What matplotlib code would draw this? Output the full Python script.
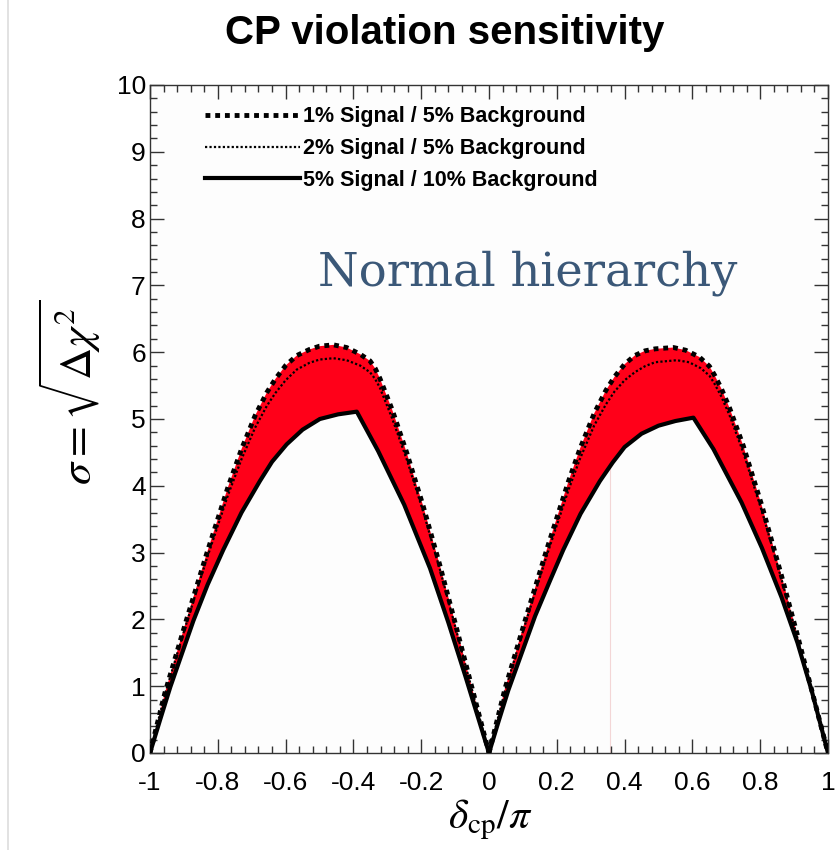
import numpy as np
import matplotlib
matplotlib.use("Agg")
import matplotlib.pyplot as plt
from matplotlib.lines import Line2D

# ---- data ----
# 1% Signal / 5% Background (outer, thick dotted)
x_s1_left = [-1.0, -0.956, -0.892, -0.833, -0.77, -0.73, -0.69, -0.655, -0.63, -0.60, -0.567, -0.53,
             -0.50, -0.459, -0.42, -0.38, -0.351, -0.336, -0.322, -0.285, -0.243, -0.195, -0.145, -0.10, -0.056, 0.0]
y_s1_left = [0.0, 0.9, 2.0, 2.98, 3.98, 4.55, 5.05, 5.4, 5.6, 5.8, 5.95, 6.04,
             6.09, 6.11, 6.07, 5.97, 5.87, 5.76, 5.61, 5.13, 4.5, 3.71, 2.81, 1.95, 1.09, 0.0]
x_s1_right = [0.0, 0.047, 0.111, 0.170, 0.234, 0.268, 0.31, 0.345, 0.37, 0.40, 0.43, 0.46,
              0.49, 0.544, 0.58, 0.62, 0.65, 0.665, 0.685, 0.71, 0.75, 0.805, 0.863, 0.91, 0.952, 1.0]
y_s1_right = [0.0, 0.96, 2.06, 3.04, 4.06, 4.55, 5.08, 5.43, 5.63, 5.82, 5.95, 6.02,
              6.05, 6.07, 6.03, 5.93, 5.79, 5.66, 5.46, 5.16, 4.6, 3.7, 2.65, 1.76, 0.94, 0.0]

# 2% Signal / 5% Background (thin dotted)
x_s2_left = [-1.0, -0.956, -0.892, -0.833, -0.77, -0.73, -0.69, -0.655, -0.63, -0.60, -0.567, -0.53,
             -0.50, -0.459, -0.42, -0.38, -0.351, -0.336, -0.322, -0.285, -0.243, -0.195, -0.145, -0.10, -0.056, 0.0]
y_s2_left = [0.0, 0.88, 1.95, 2.9, 3.86, 4.4, 4.87, 5.2, 5.39, 5.58, 5.74, 5.84,
             5.89, 5.91, 5.88, 5.8, 5.7, 5.6, 5.47, 5.0, 4.4, 3.63, 2.75, 1.9, 1.06, 0.0]
x_s2_right = [0.0, 0.047, 0.111, 0.170, 0.234, 0.268, 0.31, 0.345, 0.37, 0.40, 0.43, 0.46,
              0.49, 0.554, 0.59, 0.625, 0.65, 0.665, 0.685, 0.71, 0.75, 0.805, 0.863, 0.91, 0.952, 1.0]
y_s2_right = [0.0, 0.93, 2.0, 2.95, 3.93, 4.4, 4.9, 5.22, 5.41, 5.58, 5.7, 5.79,
              5.85, 5.88, 5.85, 5.76, 5.65, 5.53, 5.34, 5.05, 4.5, 3.62, 2.6, 1.72, 0.92, 0.0]

# 5% Signal / 10% Background (solid)
x_s5_left = [-1.0, -0.97, -0.94, -0.872, -0.83, -0.784, -0.73, -0.676, -0.64, -0.597, -0.55, -0.499,
             -0.445, -0.39, -0.327, -0.25, -0.174, -0.12, -0.07, 0.0]
y_s5_left = [0.0, 0.5, 0.99, 1.98, 2.52, 3.04, 3.6, 4.07, 4.36, 4.62, 4.84, 5.0,
             5.07, 5.11, 4.52, 3.715, 2.765, 1.955, 1.155, 0.0]
x_s5_right = [0.0, 0.028, 0.057, 0.136, 0.18, 0.219, 0.27, 0.327, 0.365, 0.40, 0.45, 0.50,
              0.55, 0.603, 0.662, 0.745, 0.805, 0.863, 0.91, 0.952, 1.0]
y_s5_right = [0.0, 0.47, 0.94, 2.05, 2.58, 3.04, 3.58, 4.07, 4.35, 4.58, 4.78, 4.9,
              4.97, 5.02, 4.55, 3.75, 3.07, 2.33, 1.65, 0.93, 0.0]

labels = ["1% Signal / 5% Background", "2% Signal / 5% Background", "5% Signal / 10% Background"]
title = "CP violation sensitivity"
annotation = "Normal hierarchy"
xticks = [-1, -0.8, -0.6, -0.4, -0.2, 0, 0.2, 0.4, 0.6, 0.8, 1]
xticklabels = ["-1", "-0.8", "-0.6", "-0.4", "-0.2", "0", "0.2", "0.4", "0.6", "0.8", "1"]
yticks = list(range(0, 11))

# ---- figure ----
plt.rcParams["mathtext.fontset"] = "stix"
fig = plt.figure(figsize=(8.37, 8.5), dpi=100)
ax = fig.add_axes([150/837, 1-753/850, 678/837, 668/850])
ax.set_facecolor("#fdfdfd")

red = "#ff0019"
for xo, yo, xs, ys in [(x_s1_left, y_s1_left, x_s5_left, y_s5_left),
                       (x_s1_right, y_s1_right, x_s5_right, y_s5_right)]:
    px = np.concatenate([xo, xs[::-1]])
    py = np.concatenate([yo, ys[::-1]])
    ax.fill(px, py, color=red, lw=0, zorder=1)

# faint artifact line in reference
ax.plot([0.357, 0.357], [0, 4.7], color="#f3d6d6", lw=0.8, zorder=0.5)

for xo, yo in [(x_s1_left, y_s1_left), (x_s1_right, y_s1_right)]:
    h1, = ax.plot(xo, yo, color="black", lw=3.5, linestyle=(0, (1, 1)), dash_capstyle="butt", zorder=4)
for xo, yo in [(x_s2_left, y_s2_left), (x_s2_right, y_s2_right)]:
    h2, = ax.plot(xo, yo, color="black", lw=1.6, linestyle=(0, (1, 1)), zorder=3)
for xo, yo in [(x_s5_left, y_s5_left), (x_s5_right, y_s5_right)]:
    h5, = ax.plot(xo, yo, color="black", lw=3.0, solid_joinstyle="round", zorder=3)

ax.set_xlim(-1, 1)
ax.set_ylim(0, 10)

tickfont = ["Liberation Sans", "DejaVu Sans"]
ax.set_xticks(xticks)
ax.set_xticklabels(xticklabels, family=tickfont, fontsize=19)
ax.set_yticks(yticks)
ax.set_yticklabels([str(v) for v in yticks], family=tickfont, fontsize=19)
ax.set_xticks(np.arange(-1, 1.0001, 0.04), minor=True)
ax.set_yticks(np.arange(0, 10.0001, 0.2), minor=True)
ax.tick_params(which="both", direction="in", top=True, right=True, width=1, color="#333333")
ax.tick_params(which="major", length=10)
ax.tick_params(which="minor", length=5)
ax.tick_params(axis="x", which="major", pad=13)
ax.tick_params(axis="y", which="major", pad=3)
for s in ax.spines.values():
    s.set_linewidth(1.0)
    s.set_color("#333333")

leg = ax.legend([h1, h2, h5], labels, loc="upper left", bbox_to_anchor=(0.081, 0.968),
                frameon=False, borderpad=0, borderaxespad=0, handlelength=4.4,
                handletextpad=0.15, labelspacing=0.5,
                prop={"family": "Liberation Sans", "weight": "bold", "size": 15.5})

ax.text((318-150)/678, (753-285)/668, annotation, transform=ax.transAxes, family="DejaVu Serif",
        fontsize=33.5, color="#3b5878", ha="left", va="baseline")

fig.text(445/837, 1-33/850, title, ha="center", va="center",
         family="Liberation Sans", weight="bold", fontsize=29)

fig.text(70/837, 1-392/850, r"$\sigma = \sqrt{\Delta\chi^2}$", rotation=90, ha="center", va="center",
         fontsize=32)
fig.text(490/837, 1-820/850, r"$\delta_{\rm cp}/\pi$", ha="center", va="center", fontsize=30)

fig.add_artist(Line2D([8/837, 8/837], [0, 1], color="#dddddd", lw=1.2, transform=fig.transFigure))

fig.savefig("out.png", dpi=100)
